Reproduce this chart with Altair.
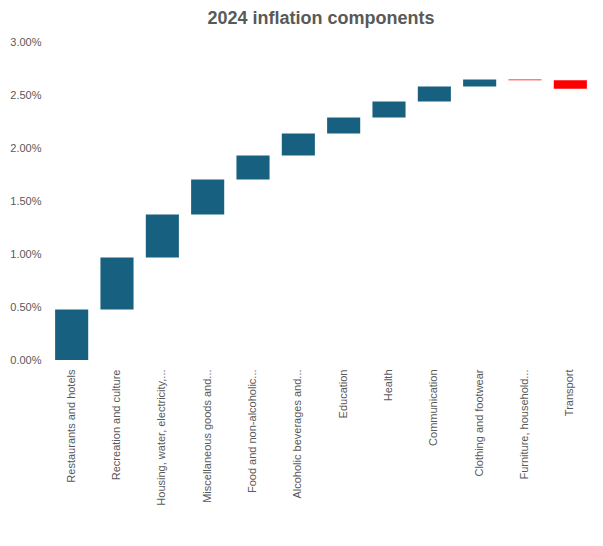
import altair as alt
import pandas as pd

categories = [
    "Restaurants and hotels",
    "Recreation and culture",
    "Housing, water, electricity,...",
    "Miscellaneous goods and...",
    "Food and non-alcoholic...",
    "Alcoholic beverages and...",
    "Education",
    "Health",
    "Communication",
    "Clothing and footwear",
    "Furniture, household...",
    "Transport",
]
# contribution to 2024 inflation, percentage points
contributions = [0.476, 0.491, 0.406, 0.330, 0.226, 0.208, 0.151, 0.151, 0.141, 0.066, -0.008, -0.078]

rows = []
running = 0.0
for cat, v in zip(categories, contributions):
    start = running
    running += v
    rows.append({
        "category": cat,
        "start": start / 100,
        "end": running / 100,
        "kind": "Increase" if v >= 0 else "Decrease",
    })
df = pd.DataFrame(rows)

bars = alt.Chart(df).mark_bar().encode(
    x=alt.X(
        "category:N",
        sort=categories,
        title=None,
        scale=alt.Scale(paddingInner=0.27, paddingOuter=0.135),
        axis=alt.Axis(
            labelAngle=-90,
            labelAlign="right",
            labelBaseline="middle",
            labelFont="Liberation Sans",
            labelFontSize=11,
            labelColor="#595959",
            labelLimit=200,
            labelPadding=9,
            domain=False,
            ticks=False,
        ),
    ),
    y=alt.Y(
        "start:Q",
        title=None,
        scale=alt.Scale(domain=[0, 0.03], nice=False),
        axis=alt.Axis(
            format=".2%",
            values=[0, 0.005, 0.01, 0.015, 0.02, 0.025, 0.03],
            labelFont="Liberation Sans",
            labelFontSize=11,
            labelColor="#595959",
            labelPadding=8,
            domain=False,
            ticks=False,
            grid=False,
        ),
    ),
    y2="end:Q",
    color=alt.Color(
        "kind:N",
        scale=alt.Scale(domain=["Increase", "Decrease"], range=["#17607f", "#ff0000"]),
        legend=None,
    ),
)

chart = bars.properties(
    width=544,
    height=318,
    background="white",
    autosize=alt.AutoSizeParams(type="none"),
    padding={"left": 41, "top": 34, "right": 2, "bottom": 178},
    title=alt.TitleParams(
        "2024 inflation components",
        font="Liberation Sans",
        fontSize=18,
        fontWeight="bold",
        color="#595959",
        anchor="middle",
        offset=8,
    ),
).configure_view(strokeWidth=0, stroke="transparent")

chart.save("out.html", embed_options={"renderer": "svg", "actions": False})
